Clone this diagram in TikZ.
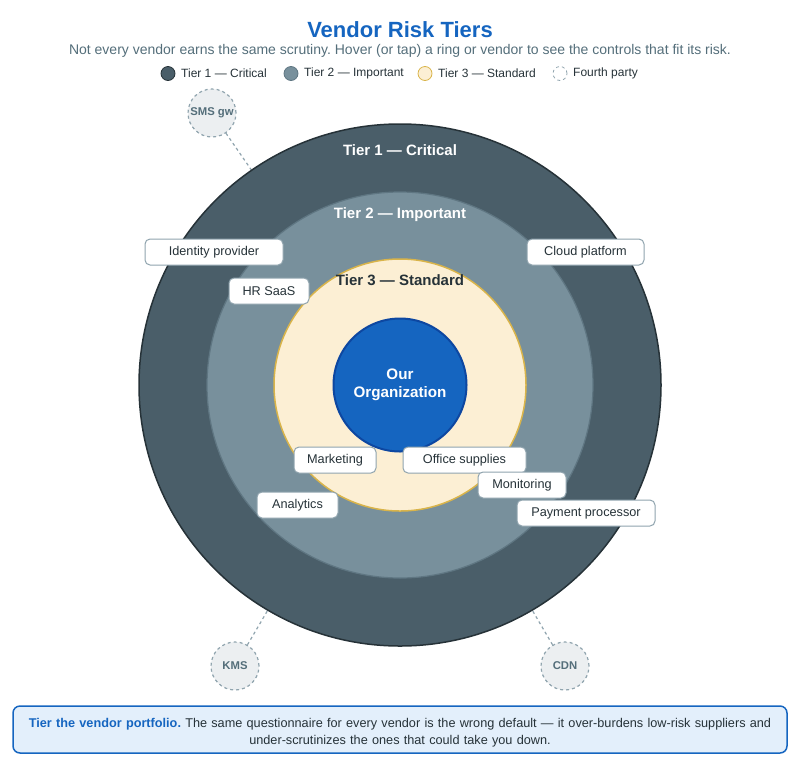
\documentclass[tikz,border=0pt]{standalone}
\usepackage{fontspec}
\setmainfont{Liberation Sans}
\usetikzlibrary{calc}
\frenchspacing
\definecolor{titleblue}{HTML}{1565C0}
\definecolor{subgray}{HTML}{546E7A}
\definecolor{tonefill}{HTML}{4A5E69}
\definecolor{toneline}{HTML}{263238}
\definecolor{ttwofill}{HTML}{78909C}
\definecolor{ttwoline}{HTML}{5F7682}
\definecolor{tthreefill}{HTML}{FCEFD4}
\definecolor{tthreeline}{HTML}{D9B44A}
\definecolor{orgline}{HTML}{0D47A1}
\definecolor{vline}{HTML}{90A4AE}
\definecolor{fpfill}{HTML}{ECEFF1}
\definecolor{fptext}{HTML}{546E7A}
\definecolor{darktext}{HTML}{263238}
\definecolor{footfill}{HTML}{E3EFFB}
\tikzset{
  vendor/.style={draw=vline, line width=1pt, fill=white, rounded corners=5pt,
    minimum height=26pt, inner sep=0pt, text=darktext, font=\fontsize{12.7}{15}\selectfont},
  fourth/.style={circle, draw=vline, dashed, line width=1.2pt, fill=fpfill,
    minimum size=48pt, inner sep=0pt, text=fptext, font=\fontsize{11.3}{13}\selectfont\bfseries},
  fpline/.style={draw=vline, dashed, line width=1.2pt},
  ring/.style={circle, inner sep=0pt},
  legdot/.style={circle, minimum size=14pt, inner sep=0pt},
  legtext/.style={anchor=west, text=darktext, font=\fontsize{12}{14}\selectfont, inner sep=0pt},
  tierlabel/.style={font=\fontsize{15}{18}\selectfont\bfseries},
}
\begin{document}
\begin{tikzpicture}[x=1pt,y=-1pt]
\useasboundingbox (0,0) rectangle (800,772);
\coordinate (c) at (400,385);
% title
\node[text=titleblue, font=\fontsize{22}{26}\selectfont\bfseries] (title) at (400,30) {Vendor Risk Tiers};
\node[text=subgray, font=\fontsize{14}{17}\selectfont] (sub) at (400,51) {Not every vendor earns the same scrutiny. Hover (or tap) a ring or vendor to see the controls that fit its risk.};
% legend
\node[legdot, fill=tonefill, draw=toneline, line width=0.8pt] (l1) at (168,73.5) {};
\node[legtext] (l1t) at (181,73.5) {Tier 1 — Critical};
\node[legdot, fill=ttwofill, draw=ttwoline, line width=0.8pt] (l2) at (291,73.5) {};
\node[legtext] (l2t) at (304,73.5) {Tier 2 — Important};
\node[legdot, fill=tthreefill, draw=tthreeline, line width=0.8pt] (l3) at (425,73.5) {};
\node[legtext] (l3t) at (438,73.5) {Tier 3 — Standard};
\node[legdot, fill=white, draw=vline, dashed, line width=0.8pt] (l4) at (560,73.5) {};
\node[legtext] (l4t) at (573,73.5) {Fourth party};
% fourth parties
\node[fourth] (sms) at (212,113) {SMS gw};
\node[fourth] (kms) at (235,666) {KMS};
\node[fourth] (cdn) at (565,666) {CDN};
\coordinate (smse) at ($(c)!261pt!(sms)$);
\coordinate (kmse) at ($(c)!261pt!(kms)$);
\coordinate (cdne) at ($(c)!261pt!(cdn)$);
\draw[fpline] (sms) -- (smse);
\draw[fpline] (kms) -- (kmse);
\draw[fpline] (cdn) -- (cdne);
% rings
\node[ring, minimum size=522pt, fill=tonefill, draw=toneline, line width=1.5pt] (t1) at (c) {};
\node[ring, minimum size=386pt, fill=ttwofill, draw=ttwoline, line width=1.2pt] (t2) at (c) {};
\node[ring, minimum size=252pt, fill=tthreefill, draw=tthreeline, line width=1.5pt] (t3) at (c) {};
\node[ring, minimum size=133pt, fill=titleblue, draw=orgline, line width=2pt, text=white,
  align=center, font=\fontsize{15.2}{18.5}\selectfont\bfseries] (org) at (c) {Our\\Organization};
% tier labels
\node[tierlabel, text=white] (t1l) at (400,150) {Tier 1 — Critical};
\node[tierlabel, text=white] (t2l) at (400,215) {Tier 2 — Important};
\node[tierlabel, text=darktext] (t3l) at (400,280) {Tier 3 — Standard};
% vendors
\node[vendor, minimum width=138pt] (idp) at (214,252) {Identity provider};
\node[vendor, minimum width=117pt] (cloud) at (585.5,252) {Cloud platform};
\node[vendor, minimum width=80pt] (hr) at (269,291) {HR SaaS};
\node[vendor, minimum width=82pt] (mkt) at (335,460) {Marketing};
\node[vendor, minimum width=123pt] (office) at (464.5,460) {Office supplies};
\node[vendor, minimum width=88pt] (mon) at (522,485) {Monitoring};
\node[vendor, minimum width=81pt] (ana) at (297.5,505) {Analytics};
\node[vendor, minimum width=138pt] (pay) at (586,513) {Payment processor};
% footer
\node[draw=titleblue, line width=1.5pt, fill=footfill, rounded corners=7pt,
  minimum width=774pt, minimum height=47pt, inner sep=0pt] (foot) at (400,729.5) {};
\node[text width=770pt, align=center, inner sep=0pt,
  text=darktext, font=\fontsize{12.7}{17}\selectfont] (foottext) at (400,732.5)
  {{\color{titleblue}\bfseries Tier the vendor portfolio.} The same questionnaire for every vendor is the wrong default — it over-burdens low-risk suppliers and\\ under-scrutinizes the ones that could take you down.};
\end{tikzpicture}
\end{document}
